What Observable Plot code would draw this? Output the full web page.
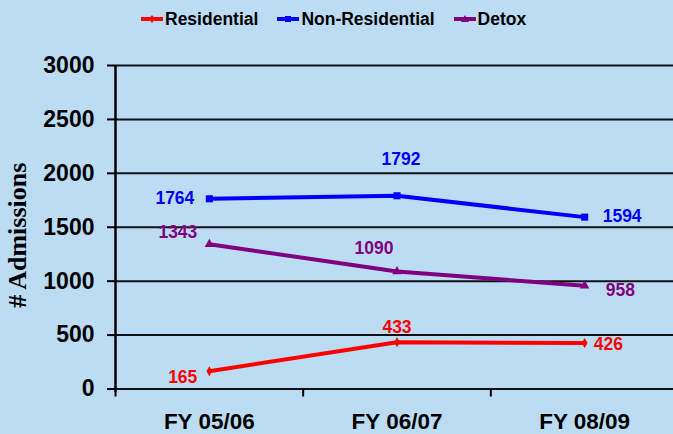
<!DOCTYPE html>
<html>
<head>
<meta charset="utf-8">
<script src="https://cdn.jsdelivr.net/npm/d3@7"></script>
<script src="https://cdn.jsdelivr.net/npm/@observablehq/plot@0.6"></script>
<style>
  html, body { margin: 0; padding: 0; background: #BCDCF4; }
  #wrap { width: 673px; height: 434px; overflow: hidden; background: #BCDCF4; font-family: "Liberation Sans", Arial, sans-serif; }
  #legend { height: 38px; display: flex; align-items: center; padding-left: 141px; box-sizing: border-box; font-weight: bold; font-size: 17.5px; color: #000; }
  .item { display: flex; align-items: center; margin-right: 19px; }
  .item svg { margin-right: 2px; }
  #chart svg { display: block; }
</style>
</head>
<body>
<div id="wrap">
  <div id="legend"></div>
  <div id="chart"></div>
</div>
<script>
// ---- data ----
const categories = ["FY 05/06", "FY 06/07", "FY 08/09"];
const seriesNames = ["Residential", "Non-Residential", "Detox"];
const residential = [165, 433, 426];
const nonResidential = [1764, 1792, 1594];
const detox = [1343, 1090, 958];
const yTicks = [0, 500, 1000, 1500, 2000, 2500, 3000];

// ---- styles ----
const colors = {"Residential": "#FF0000", "Non-Residential": "#0000FF", "Detox": "#800080"};
const symbols = {"Residential": "diamond", "Non-Residential": "square", "Detox": "triangle"};
const symbolR = {"Residential": 3, "Non-Residential": 4, "Detox": 3.5};
// label placement per series, per point: [textAnchor, dx, dy]
const labelPlacement = {
  "Residential": [["end", -12, 6], ["middle", 0, -15], ["start", 9, 1]],
  "Non-Residential": [["end", -15, 0], ["middle", 4, -36], ["start", 18, -1]],
  "Detox": [["end", -12, -12], ["middle", -23, -23], ["start", 21, 5]]
};

const values = [residential, nonResidential, detox];
const rows = [];
seriesNames.forEach((s, si) => {
  values[si].forEach((v, i) => rows.push({series: s, idx: i, x: i + 0.5, value: v, category: categories[i]}));
});

// legend
const legend = document.getElementById("legend");
seriesNames.forEach(s => {
  const item = document.createElement("div");
  item.className = "item";
  const c = colors[s];
  let marker;
  if (s === "Non-Residential") marker = `<rect x="8" y="3" width="6" height="6" fill="${c}"/>`;
  else if (s === "Detox") marker = `<path d="M11,2 L15,9 L7,9 Z" fill="${c}"/>`;
  else marker = `<path d="M11,2 L14,6 L11,10 L8,6 Z" fill="${c}"/>`;
  item.innerHTML = `<svg width="22" height="12"><line x1="0" y1="6" x2="22" y2="6" stroke="${c}" stroke-width="4"/>${marker}</svg><span>${s}</span>`;
  legend.appendChild(item);
});

const marks = [
  Plot.ruleY(yTicks, {stroke: "#111", strokeWidth: 2}),
  Plot.axisY({ticks: yTicks, tickSize: 8, tickPadding: 13, tickFormat: d => String(d), strokeWidth: 2, stroke: "#000", fontSize: 23, fontWeight: "bold", fill: "#000", label: null}),
  Plot.axisX({ticks: [0, 1, 2, 3], tickSize: 8, tickFormat: () => "", strokeWidth: 2, stroke: "#000", label: null}),
  Plot.axisX({ticks: [0.5, 1.5, 2.5], tickSize: 0, tickPadding: 24, tickFormat: d => categories[Math.round(d - 0.5)], fontSize: 22.5, fontWeight: "bold", fill: "#000", label: null}),
  Plot.ruleX([0], {y1: -30, y2: 3000, stroke: "#000", strokeWidth: 2.5}),
  Plot.text(["# Admissions"], {frameAnchor: "left", textAnchor: "middle", rotate: -90, dx: -98, dy: 8, fontFamily: "Liberation Serif, Times New Roman, serif", fontSize: 26, fontWeight: "bold", fill: "#000"})
];
seriesNames.forEach(s => {
  const d = rows.filter(r => r.series === s);
  marks.push(Plot.line(d, {x: "x", y: "value", stroke: colors[s], strokeWidth: 4}));
  marks.push(Plot.dot(d, {x: "x", y: "value", symbol: symbols[s], r: symbolR[s], fill: colors[s], stroke: "none"}));
  d.forEach((r, i) => {
    const [anchor, dx, dy] = labelPlacement[s][i];
    marks.push(Plot.text([r], {x: "x", y: "value", text: d => String(d.value), textAnchor: anchor, dx, dy, fill: colors[s], fontSize: 17.5, fontWeight: "bold"}));
  });
});

const chart = Plot.plot({
  width: 673,
  height: 396,
  marginTop: 27,
  marginBottom: 45.5,
  marginLeft: 115,
  marginRight: 0,
  style: {background: "#BCDCF4", fontFamily: "Liberation Sans, Arial, sans-serif", fontWeight: "bold", overflow: "hidden"},
  x: {domain: [0, 3], range: [115, 678], axis: null},
  y: {domain: [0, 3000], axis: null},
  marks
});
document.getElementById("chart").appendChild(chart);
</script>
</body>
</html>
